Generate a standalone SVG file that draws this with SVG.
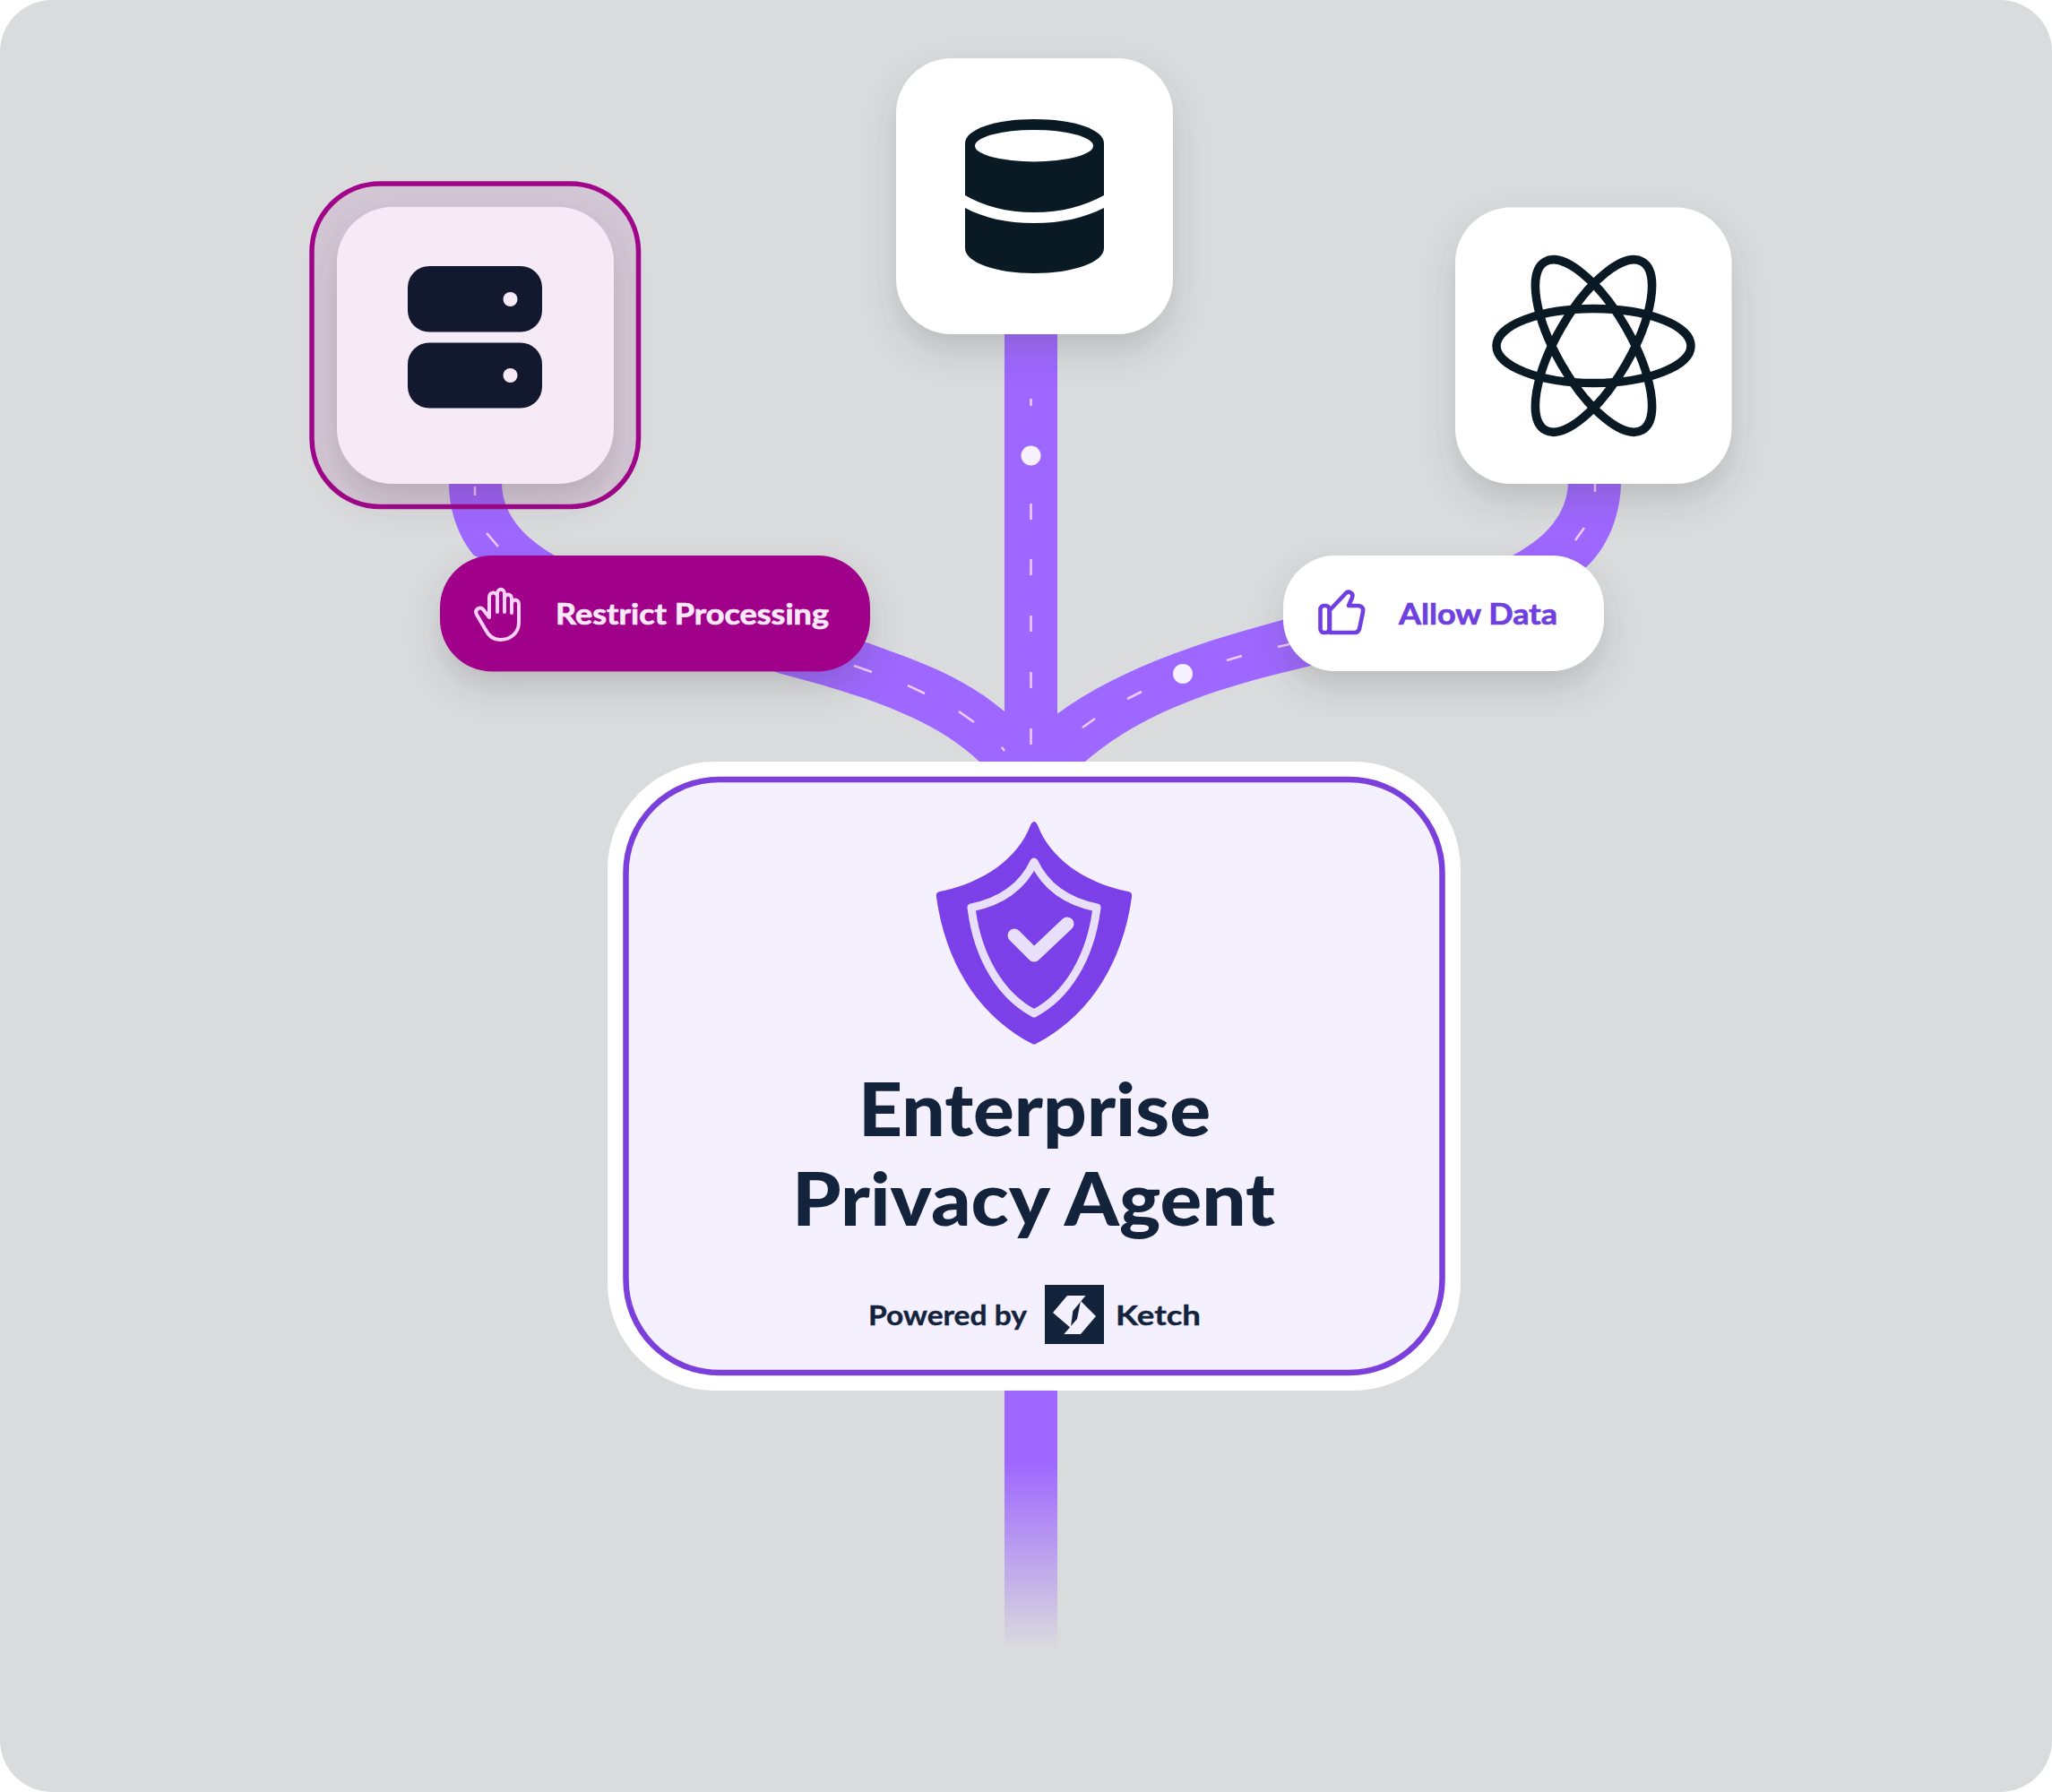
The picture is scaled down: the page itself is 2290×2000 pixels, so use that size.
<svg xmlns="http://www.w3.org/2000/svg" width="2290" height="2000" viewBox="0 0 2290 2000">
<style>
.road{fill:#9e67ff}
.dash{fill:none;stroke:#f3c8fb;stroke-width:2.6;stroke-linecap:butt}
.dot{fill:#f8f1ff}
.t{font-family:"Lato","Liberation Sans",sans-serif;font-weight:700}
.title{font-size:82px;fill:#14233c;font-weight:900}
.small{font-size:31px;fill:#14233c;stroke:#14233c;stroke-width:0.4}
.pilltext{font-size:33px;stroke-width:0.7}
.tile{filter:url(#sh)}
.dark{fill:#0a1a24}
</style>
<defs>
<filter id="sh" x="-30%" y="-30%" width="160%" height="170%"><feDropShadow dx="0" dy="18" stdDeviation="18" flood-color="#404446" flood-opacity="0.2"/></filter>
<linearGradient id="fade" gradientUnits="userSpaceOnUse" x1="0" y1="1551" x2="0" y2="1840"><stop offset="0.28" stop-color="#9e67ff"/><stop offset="1" stop-color="#9e67ff" stop-opacity="0"/></linearGradient>
</defs>
<rect width="2290" height="2000" fill="#ffffff"/>
<rect id="background" width="2290" height="2000" rx="58" fill="#dadbdd"/>
<g id="connectors">
<rect class="road" x="1121" y="373" width="59" height="480"/>
<path class="road" d="M501 540C501 570 512 600 529 620L868 751C960 775 1040 800 1093 850L1150 850L1121 794C1075 755 1025 738 967 717L619 620C585 600 561 575 560 540Z"/>
<path class="road" d="M1750 540C1748 575 1725 600 1688 620L1431 692C1345 715 1250 745 1179.5 797L1150 850L1211 850C1280 790 1370 765 1463 743L1770 633C1795 610 1808 575 1809 540Z"/>
<rect x="1121" y="1551" width="59" height="289" fill="url(#fade)"/>
<path class="dash" d="M1150.5 445V453M1150.5 562V580M1150.5 624V642M1150.5 687V705M1150.5 750V768M1150.5 813V831"/>
<circle class="dot" cx="1150.5" cy="508.5" r="11"/>
<path class="dash" d="M530 543V553M543 595L556 610M953 743L973 750M1013 765L1032 774M1070 794L1087 806M1118 834L1121 838"/>
<path class="dash" d="M1780 540V549M1758 603L1768 589M1426 722L1439 719M1369 737L1386 732M1258 780L1274 772M1208 812L1222 802"/>
<circle class="dot" cx="1320" cy="752" r="11"/>
</g>
<g id="node-server">
<rect x="348" y="205" width="364.5" height="360.5" rx="76" fill="#a0058a" fill-opacity="0.09" stroke="#a0058a" stroke-width="5.5"/>
<rect class="tile" x="376" y="231" width="309" height="309" rx="62" fill="#f7eaf7"/>
<rect x="455" y="297" width="150" height="73.5" rx="24" fill="#12182e"/>
<rect x="455" y="382.5" width="150" height="73" rx="24" fill="#12182e"/>
<circle cx="569.5" cy="334" r="8" fill="#f7eaf7"/>
<circle cx="569.5" cy="419" r="8" fill="#f7eaf7"/>
</g>
<g id="node-database">
<rect class="tile" x="1000" y="65" width="309" height="308" rx="62" fill="#ffffff"/>
<path class="dark" d="M1077 160C1077 144 1112 133 1154 133C1197 133 1232 144 1232 160V218C1210 230 1185 237 1154 237C1123 237 1098 230 1077 218Z"/>
<ellipse cx="1154" cy="162.7" rx="66" ry="17.7" fill="#ffffff"/>
<path class="dark" d="M1077 232C1098 243 1123 249 1154 249C1185 249 1210 243 1232 232V277C1232 293 1197 305 1154 305C1112 305 1077 293 1077 277Z"/>
</g>
<g id="node-atom">
<rect class="tile" x="1624" y="231.5" width="308.5" height="308.5" rx="62" fill="#ffffff"/>
<g fill="none" stroke="#0a1a24" stroke-width="9.5">
<ellipse cx="1778.5" cy="386" rx="108.5" ry="41.5"/>
<ellipse cx="1778.5" cy="386" rx="108.5" ry="41.5" transform="rotate(60 1778.5 386)"/>
<ellipse cx="1778.5" cy="386" rx="108.5" ry="41.5" transform="rotate(-60 1778.5 386)"/>
</g>
</g>
<g id="node-restrict">
<rect class="tile" x="491" y="620" width="480" height="129.5" rx="58" fill="#a0058a"/>
<path fill="none" stroke="#f8d2f8" stroke-width="4" stroke-linecap="round" stroke-linejoin="round" d="M546 689L539 680C535 676 529 681 532 686L542 703C546 711 551 714 558 714C570 714 579 706 579 695V674C579 668 571 668 571 674V684M571 674V668C571 662 563 662 563 668V683M563 668V663C563 656 555 656 555 663V683M555 666C555 660 546 660 546 666V689"/>
<text class="t pilltext" x="620" y="697" fill="#fbe9f8" stroke="#fbe9f8" textLength="305" lengthAdjust="spacingAndGlyphs">Restrict Processing</text>
</g>
<g id="node-allow">
<rect class="tile" x="1432" y="620" width="358" height="129" rx="58" fill="#ffffff"/>
<g fill="none" stroke="#6f3fe0" stroke-width="4.6" stroke-linejoin="round">
<rect x="1473.5" y="676" width="10" height="30" rx="4"/>
<path d="M1484 681L1502 662C1505 659 1511 662 1509 667L1505 676H1515C1519 676 1522 678 1521 683L1517 702C1516 705 1514 706 1512 706H1484Z"/>
</g>
<text class="t pilltext" x="1561" y="697" fill="#6f3fe0" stroke="#6f3fe0" textLength="177" lengthAdjust="spacingAndGlyphs">Allow Data</text>
</g>
<g id="node-agent">
<rect x="678" y="850" width="952" height="702" rx="120" fill="#ffffff"/>
<rect x="698.5" y="870" width="911" height="662" rx="104" fill="#f4f0fe" stroke="#7b40db" stroke-width="6.5"/>
<path d="M1150 921Q1154 913 1158 921C1172 958 1210 985 1259 995Q1264 996 1263 1001C1253 1075 1215 1135 1156 1165Q1154 1166 1152 1165C1093 1135 1055 1075 1045 1001Q1044 996 1049 995C1098 985 1136 958 1150 921Z" fill="#7b40e8"/>
<path d="M1154 962C1167 990 1190 1006 1224 1013C1217 1070 1190 1112 1154 1131C1118 1112 1091 1070 1084 1013C1118 1006 1141 990 1154 962Z" fill="none" stroke="#e8e0fa" stroke-width="9" stroke-linejoin="round"/>
<path d="M1132 1044L1154 1066L1191 1031" fill="none" stroke="#e8e0fa" stroke-width="15" stroke-linecap="round" stroke-linejoin="round"/>
<text class="t title" x="958" y="1268" textLength="393" lengthAdjust="spacingAndGlyphs">Enterprise</text>
<text class="t title" x="884" y="1368" textLength="539" lengthAdjust="spacingAndGlyphs">Privacy Agent</text>
<text class="t small" x="969" y="1479" textLength="177" lengthAdjust="spacingAndGlyphs">Powered by</text>
<rect x="1166" y="1434" width="66" height="66" fill="#14233c"/>
<path d="M1191 1446H1211.5L1197.4 1463L1194.8 1482L1175 1465Z" fill="#f4f0fe"/>
<path d="M1206 1452L1223 1469L1206 1489H1187.4L1202 1472Z" fill="#f4f0fe"/>
<text class="t small" x="1245" y="1479" textLength="95" lengthAdjust="spacingAndGlyphs">Ketch</text>
</g>
</svg>
